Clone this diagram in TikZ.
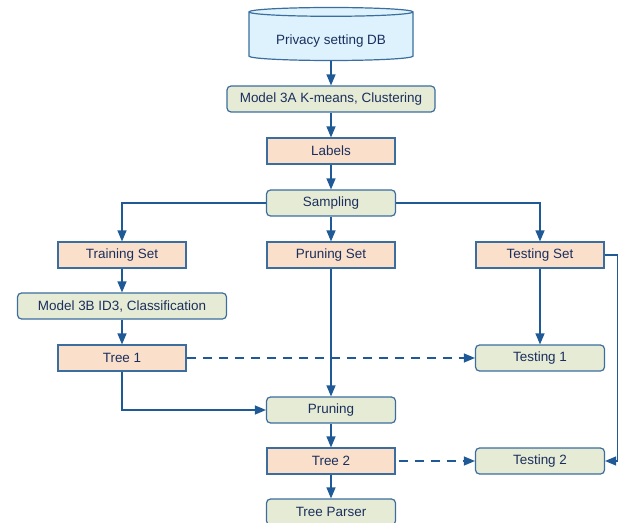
\documentclass[tikz,border=0pt]{standalone}
\usepackage{fontspec}
\setmainfont{Liberation Sans}
\usetikzlibrary{arrows}
\usetikzlibrary{shapes.geometric}

\definecolor{linkblue}{HTML}{1F5A96}
\definecolor{edgeblue}{HTML}{3B6E9E}
\definecolor{textnavy}{HTML}{1B2F5E}
\definecolor{dbfill}{HTML}{DDF2FC}
\definecolor{peach}{HTML}{FADFCA}
\definecolor{sage}{HTML}{E6EBD5}

\tikzset{
  base/.style={draw=edgeblue, line width=1.2bp, text=textnavy, inner sep=0pt,
    minimum height=26bp, font=\fontsize{13.5}{16}\selectfont},
  databox/.style={base, fill=peach, minimum width=128bp},
  stepbox/.style={base, fill=sage, rounded corners=4bp, minimum width=129bp},
  dbshape/.style={base, cylinder, shape border rotate=90, aspect=0.08,
    fill=dbfill, minimum width=164bp, minimum height=53bp,
    text height=19bp, text depth=2.5bp},
  link/.style={draw=linkblue, line width=1.6bp, ->, >=triangle 45},
  testlink/.style={link, dash pattern=on 9bp off 7bp}
}

\begin{document}
\begin{tikzpicture}[x=1bp, y=-1bp]
          \useasboundingbox (0,0) rectangle (626,523);
          % database and clustering
          \node[dbshape] (db) at (331,36.5) {Privacy setting DB};
          \node[stepbox, minimum width=208bp] (kmeans) at (331,99) {Model 3A K-means, Clustering};
          \node[databox] (labels) at (331,151) {Labels};
          \node[stepbox] (sampling) at (331,203) {Sampling};
          % the three sets
          \node[databox] (trainset) at (122,255) {Training Set};
          \node[databox] (pruneset) at (331,255) {Pruning Set};
          \node[databox] (testset) at (540,255) {Testing Set};
          % classification
          \node[stepbox, minimum width=209bp] (id3) at (122,306) {Model 3B ID3, Classification};
          \node[databox] (tree1) at (122,358) {Tree 1};
          \node[stepbox] (testing1) at (540,358) {Testing 1};
          % pruning
          \node[stepbox] (pruning) at (331,410) {Pruning};
          \node[databox] (tree2) at (331,461) {Tree 2};
          \node[stepbox] (testing2) at (540,461) {Testing 2};
          \node[stepbox] (parser) at (331,512) {Tree Parser};
          % main line
          \draw[link] (db) -- (kmeans);
          \draw[link] (kmeans) -- (labels);
          \draw[link] (labels) -- (sampling);
          \draw[link] (sampling) -| (trainset);
          \draw[link] (sampling) -- (pruneset);
          \draw[link] (sampling) -| (testset);
          % left branch
          \draw[link] (trainset) -- (id3);
          \draw[link] (id3) -- (tree1);
          \draw[link] (tree1) |- (pruning);
          \draw[link] (pruneset) -- (pruning);
          \draw[link] (pruning) -- (tree2);
          \draw[link] (tree2) -- (parser);
          % testing
          \draw[link] (testset) -- (testing1);
          \draw[link] (testset.east) -- ++(13,0) |- (testing2.east);
          \draw[testlink] (tree1) -- (testing1);
          \draw[testlink, shorten <=3bp] (tree2) -- (testing2);
        \end{tikzpicture}
\end{document}
